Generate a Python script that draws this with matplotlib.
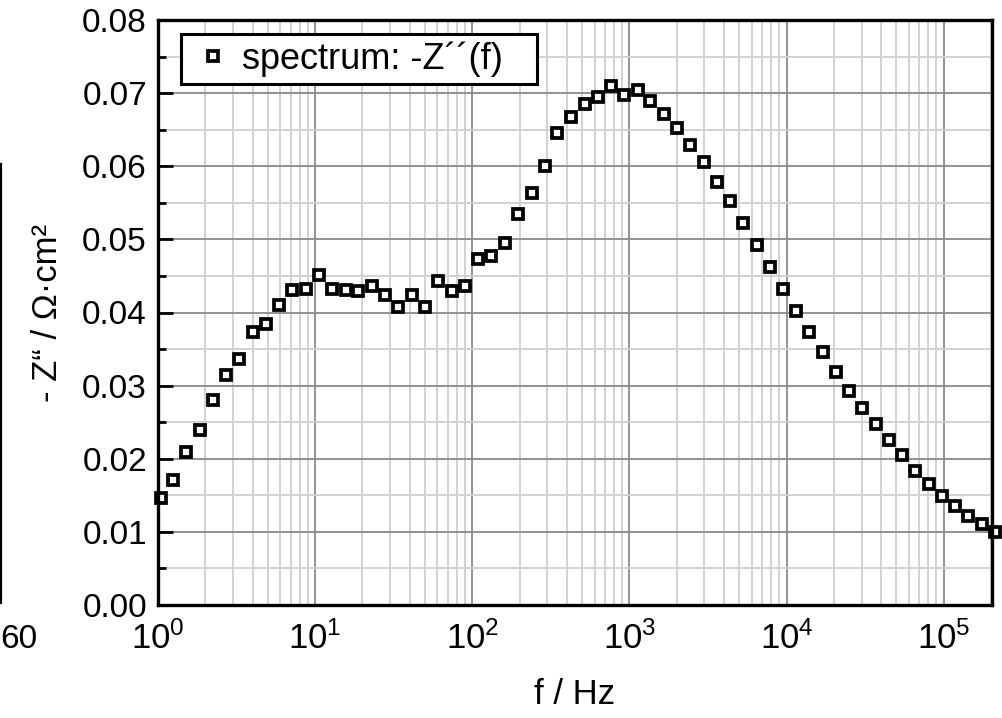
import matplotlib
matplotlib.use("Agg")
import matplotlib.pyplot as plt
from matplotlib.ticker import LogLocator, FormatStrFormatter, MultipleLocator, NullFormatter
from matplotlib.lines import Line2D

plt.rcParams['font.family'] = ['Liberation Sans', 'DejaVu Sans']
plt.rcParams['mathtext.fontset'] = 'custom'
plt.rcParams['mathtext.rm'] = 'Liberation Sans'
plt.rcParams['mathtext.it'] = 'Liberation Sans:italic'
plt.rcParams['mathtext.default'] = 'regular'

# frequency (Hz)
freq = [1.04, 1.246, 1.516, 1.843, 2.252, 2.725, 3.279, 4.007, 4.849, 5.928,
        7.172, 8.713, 10.59, 12.89, 15.66, 18.87, 22.93, 27.86, 33.9, 41.2,
        50.07, 60.9, 74.06, 90.0, 109.5, 132.5, 161.0, 195.7, 238.2, 288.2,
        346.6, 426.8, 518.7, 629.4, 761.4, 921.2, 1126, 1362, 1656, 1994,
        2424, 2963, 3601, 4357, 5270, 6444, 7795, 9474, 11460, 13930,
        16950, 20600, 25030, 30290, 37020, 44800, 54440, 65880, 80140, 97390,
        117800, 143200, 174300, 211800]
# -Z'' (Ohm cm^2)
negZim = [0.01459, 0.01705, 0.02097, 0.02389, 0.02799, 0.03145, 0.03368, 0.03733, 0.03838, 0.04098,
          0.04308, 0.04321, 0.04509, 0.04326, 0.04308, 0.04294, 0.04362, 0.04244, 0.04071, 0.04244,
          0.04071, 0.04431, 0.04298, 0.04362, 0.04727, 0.04773, 0.04955, 0.05342, 0.05630, 0.06003,
          0.06450, 0.06678, 0.06847, 0.06951, 0.07101, 0.06974, 0.07043, 0.06897, 0.06715, 0.06519,
          0.06290, 0.06054, 0.05789, 0.05520, 0.05229, 0.04928, 0.04627, 0.04326, 0.04020, 0.03738,
          0.03456, 0.03182, 0.02931, 0.02694, 0.02475, 0.02261, 0.02055, 0.01828, 0.01655, 0.01491,
          0.01354, 0.01221, 0.01108, 0.01003]

fig = plt.figure(figsize=(10.03, 7.18), dpi=100)
W, H = 1003, 718
ax = fig.add_axes([158 / W, 1 - 605 / H, (992 - 158) / W, (605 - 20) / H])

ax.set_xscale('log')
ax.set_xlim(1, 2.03e5)
ax.set_ylim(0, 0.08)

ax.plot(freq, negZim, linestyle='none', marker='s', markersize=7.6,
        markerfacecolor='white', markeredgecolor='black', markeredgewidth=2.7,
        clip_on=False, zorder=5, label='spectrum: -Z\u00b4\u00b4(f)')

ax.xaxis.set_major_locator(LogLocator(base=10, numticks=10))
ax.xaxis.set_minor_locator(LogLocator(base=10, subs=range(2, 10), numticks=20))
ax.xaxis.set_minor_formatter(NullFormatter())
ax.yaxis.set_major_locator(MultipleLocator(0.01))
ax.yaxis.set_minor_locator(MultipleLocator(0.005))
ax.yaxis.set_major_formatter(FormatStrFormatter('%.2f'))

ax.grid(which='major', color='#8a8a8a', linewidth=1.3)
ax.grid(which='minor', color='#cfcfcf', linewidth=1.3)
ax.set_axisbelow(True)

for s in ax.spines.values():
    s.set_linewidth(2.4)
    s.set_color('black')
    s.set_zorder(6)

ax.tick_params(axis='y', which='major', direction='in', length=10.5, width=2,
               labelsize=24, pad=8, right=False)
ax.tick_params(axis='y', which='minor', direction='in', length=5.8, width=2, right=False)
ax.tick_params(axis='x', which='both', length=0, labelsize=25, pad=12, top=False)

ax.set_xlabel('f / Hz', fontsize=25, labelpad=16)
ax.set_ylabel('- Z\u201c / \u03a9\u00b7cm\u00b2', fontsize=25, labelpad=13)

leg = ax.legend(loc='upper left',
                bbox_to_anchor=((181 - 158) / 834, (605 - 91) / 585, 356 / 834, 57 / 585),
                mode='expand', borderaxespad=0, fontsize=26, frameon=True,
                fancybox=False, framealpha=1, edgecolor='black',
                handlelength=1.4, handletextpad=0.1, borderpad=0.2)
leg.get_frame().set_linewidth(2.2)
leg.set_zorder(7)

# fragments of the neighbouring panel at the left edge
fig.add_artist(Line2D([0.8 / W, 0.8 / W], [1 - 164 / H, 1 - 603 / H],
                      transform=fig.transFigure, color='black', linewidth=1.6))
fig.text(0, 1 - 648 / H, '60', fontsize=24, ha='left', va='baseline')

fig.savefig('out.png', dpi=100)
